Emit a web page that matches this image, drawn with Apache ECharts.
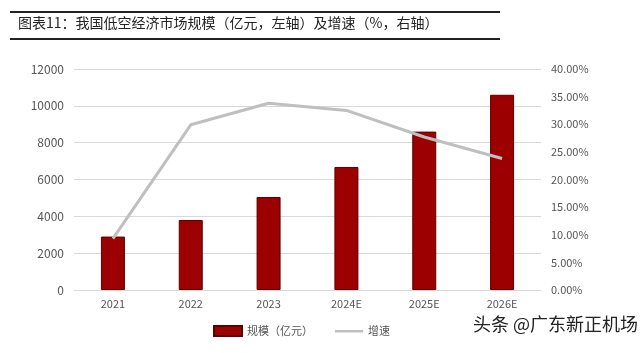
<!DOCTYPE html>
<html>
<head>
<meta charset="utf-8">
<script src="https://cdn.jsdelivr.net/npm/echarts@6/dist/echarts.min.js"></script>
<style>
  html, body { margin: 0; padding: 0; background: #fff; }
  #chart { width: 640px; height: 353px; }
</style>
</head>
<body>
<div id="chart"></div>
<script>
const years = ['2021', '2022', '2023', '2024E', '2025E', '2026E'];
const scale = [2900, 3800, 5050, 6680, 8600, 10600];   // 亿元
const growth = [9.3, 29.9, 33.8, 32.5, 27.7, 23.8];   // %

function renderMarketChart() {
  const chart = echarts.init(document.getElementById('chart'));
  const font = '"Noto Sans CJK SC", "Noto Sans", sans-serif';

  chart.setOption({
    animation: false,
    graphic: [
      { type: 'rect', shape: { x: 10, y: 11, width: 490, height: 2 }, style: { fill: '#222' } },
      { type: 'rect', shape: { x: 10, y: 38, width: 490, height: 2 }, style: { fill: '#222' } },
      {
        type: 'text', left: 18, top: 16,
        style: { text: '图表11：我国低空经济市场规模（亿元，左轴）及增速（%，右轴）', fontSize: 14, fill: '#222', fontFamily: font }
      },
      {
        type: 'text', right: 2, top: 315,
        style: { text: '头条 @广东新正机场', fontSize: 18, fill: '#222', fontFamily: font }
      }
    ],
    legend: {
      left: 208, top: 320,
      itemGap: 22,
      itemWidth: 28, itemHeight: 10,
      textStyle: { fontSize: 11, color: '#555', fontFamily: font },
      data: [
        { name: '规模（亿元）', icon: 'rect' },
        { name: '增速', icon: 'path://M0,0H0.01V0.01H0Z M0,4H28V6.5H0Z M27.99,9.99H28V10H27.99Z' }
      ]
    },
    grid: { left: 74, right: 99, top: 69, bottom: 63 },
    xAxis: {
      type: 'category',
      data: years,
      axisTick: { show: false },
      axisLine: { lineStyle: { color: '#d9d9d9' } },
      axisLabel: { color: '#555', fontSize: 11, margin: 8, fontFamily: font }
    },
    yAxis: [
      {
        type: 'value', min: 0, max: 12000, interval: 2000,
        axisLabel: { color: '#555', fontSize: 12, margin: 10, fontFamily: font,
          formatter: v => String(v) },
        splitLine: { lineStyle: { color: '#d9d9d9' } }
      },
      {
        type: 'value', min: 0, max: 40, interval: 5,
        axisLabel: { color: '#555', fontSize: 11, margin: 10, fontFamily: font,
          formatter: v => v.toFixed(2) + '%' },
        splitLine: { show: false }
      }
    ],
    series: [
      {
        name: '规模（亿元）',
        type: 'bar',
        data: scale,
        barWidth: 24,
        itemStyle: { color: '#9c0000', borderColor: '#5a0000', borderWidth: 1 }
      },
      {
        name: '增速',
        type: 'line',
        yAxisIndex: 1,
        data: growth,
        symbol: 'none',
        lineStyle: { color: '#bfbfbf', width: 3 },
        itemStyle: { color: '#bfbfbf' }
      }
    ]
  });
}

renderMarketChart();
</script>
</body>
</html>
